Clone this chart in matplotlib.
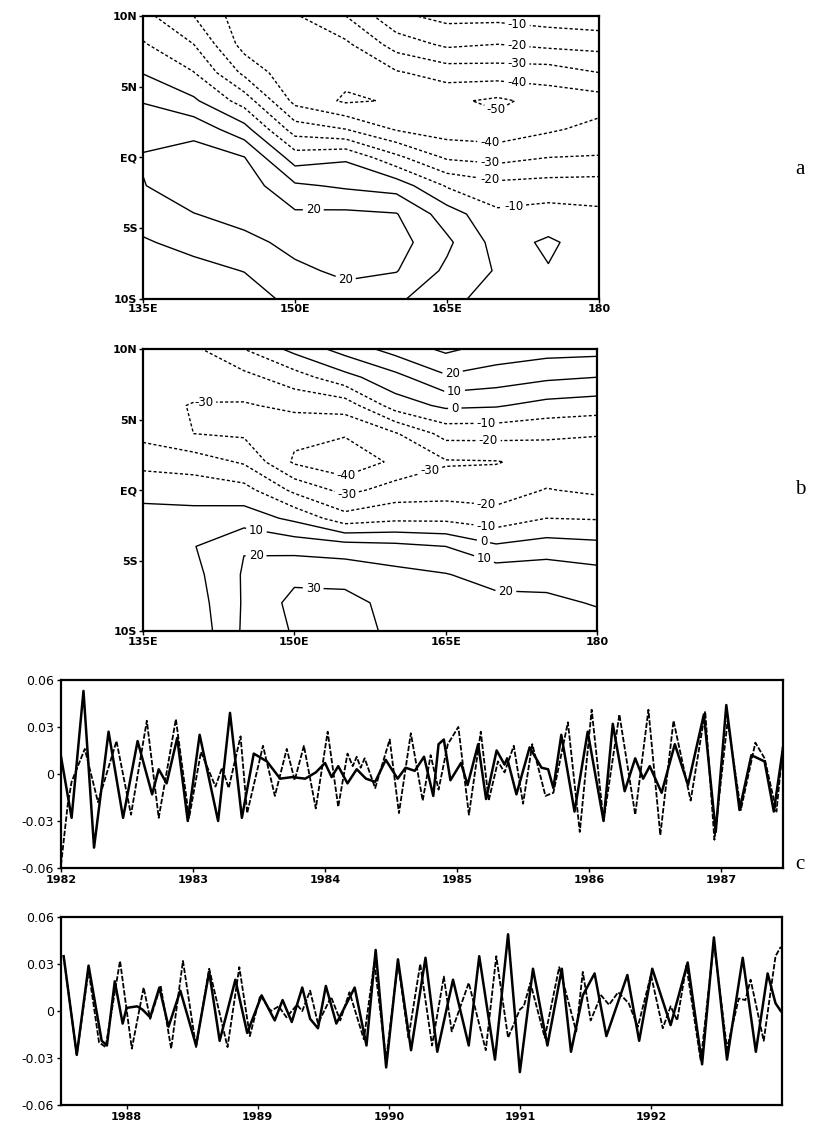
import numpy as np
import matplotlib
matplotlib.use("Agg")
import matplotlib.pyplot as plt

# ---------------- map panels (grid values) ----------------
lons = [135, 140, 145, 150, 155, 160, 165, 170, 175, 180]
lats = [10, 8, 6, 4, 2, 0, -2, -4, -6, -8, -10]

# panel a : one row per longitude, north -> south
field_a = np.array([
    [-17, -9, -0.5, 9.5, 15.3, 21, 19.5, 14, 9, 5, 2],          # 135E
    [-30, -20, -9.7, 1.7, 16.5, 25, 27, 19.7, 13, 7, 3],        # 140E
    [-46, -44, -32.5, -14.4, 3.7, 20.3, 25.5, 24, 17, 10.3, 5],  # 145E
    [-41, -46, -48, -43, -25, -5, 11.6, 21.5, 23, 18, 13],      # 150E
    [-30, -42, -47, -51.5, -30, -1.5, 8.5, 22, 26, 22, 16],     # 155E
    [-12, -25.5, -41, -49, -41, -17.5, 5.8, 20.5, 24, 20.5, 12],  # 160E
    [-7, -18, -35.5, -48, -45, -31.5, -11, 5, 12, 8, 2],        # 165E
    [-7, -20, -35, -52, -46, -33.5, -17, -8, -4, -1, -3],       # 170E
    [-5, -17.5, -35, -46, -41.5, -30, -16, -6, 1.5, -0.5, -4],  # 175E
    [-3, -16.5, -30, -44.5, -37, -29.4, -15.5, -8, -5, -4, -3],  # 180
]).T

# panel b
field_b = np.array([
    [-24, -26, -27, -23, -13.4, -2.7, 3, 5, 5.5, 5, 4],            # 135E
    [-22, -26, -30.5, -30, -14.7, -4.5, 3.6, 9.5, 7, 5, 3],        # 140E
    [-10, -23, -31, -31.5, -21.3, -6.3, 5, 19.5, 21, 21, 21.5],    # 145E
    [3, -14.6, -27.5, -37.5, -41.5, -22.4, -2.2, 16.4, 27.5, 33, 31],  # 150E
    [14, -3.3, -25.8, -39, -47, -33, -16, 14.6, 26.7, 33, 32],     # 155E
    [24, 6.8, -5, -31, -38, -26, -12.4, 12.8, 23, 27, 29],         # 160E
    [32, 18.6, 2, -16.5, -31, -24.8, -12.4, 10, 20.5, 23, 23],     # 165E
    [26, 15.3, 1, -16.5, -30.5, -25, -15.7, 1.5, 16, 23, 24],      # 170E
    [24, 11.8, -3.3, -18, -27, -19.5, -10, 4.5, 16.5, 22, 24],     # 175E
    [23.5, 10, -5, -19.3, -26.5, -22, -10.7, 3, 13.5, 19.3, 24],   # 180
]).T

levels_a = [-50, -40, -30, -20, -10, 0, 10, 20]
levels_b = [-40, -30, -20, -10, 0, 10, 20, 30]

# where the contour labels sit (lon, lat)
labels_a = [(171.9, 9.2), (171.9, 8.0), (171.9, 6.9), (171.9, 5.6), (169.8, 3.3),
            (169.2, 0.75), (169.2, -0.4), (169.2, -1.6), (171.5, -3.0),
            (151.8, -3.7), (154.8, -9.0)]
labels_b = [(165.7, 8.2), (165.9, 6.8), (165.9, 5.8), (169.0, 5.0), (169.2, 3.5),
            (163.4, 1.5), (155.2, 0.9), (155.2, -0.4), (141.0, 7.0), (169.0, -1.3),
            (169.0, -2.5), (168.7, -3.8), (146.2, -3.0), (168.7, -5.1),
            (146.2, -4.0), (171.0, -6.5), (151.9, -6.3)]

lon_ticks = [135, 150, 165, 180]
lon_labels = ["135E", "150E", "165E", "180"]
lat_ticks = [-10, -5, 0, 5, 10]
lat_labels = ["10S", "5S", "EQ", "5N", "10N"]

# ---------------- time series (turning points) -------------
c1_solid = [
    (1982.00, 0.011), (1982.08, -0.028), (1982.17, 0.053), (1982.25, -0.047),
    (1982.36, 0.027), (1982.47, -0.028), (1982.58, 0.021), (1982.69, -0.013),
    (1982.74, 0.003), (1982.80, -0.006), (1982.88, 0.023), (1982.96, -0.030),
    (1983.05, 0.025), (1983.19, -0.030), (1983.28, 0.039), (1983.37, -0.028),
    (1983.46, 0.013), (1983.56, 0.008), (1983.66, -0.003), (1983.75, -0.002),
    (1983.85, -0.003), (1983.93, 0.001), (1984.00, 0.007), (1984.05, -0.002),
    (1984.10, 0.005), (1984.17, -0.006), (1984.24, 0.003), (1984.31, -0.003),
    (1984.38, -0.005), (1984.46, 0.009), (1984.55, -0.003), (1984.61, 0.004),
    (1984.68, 0.002), (1984.75, 0.011), (1984.82, -0.014), (1984.86, 0.019),
    (1984.90, 0.022), (1984.95, -0.004), (1985.03, 0.007), (1985.08, -0.007),
    (1985.16, 0.019), (1985.22, -0.016), (1985.30, 0.015), (1985.36, 0.006),
    (1985.38, 0.010), (1985.45, -0.013), (1985.55, 0.017), (1985.64, 0.004),
    (1985.69, 0.003), (1985.73, -0.009), (1985.79, 0.025), (1985.89, -0.024),
    (1985.99, 0.027), (1986.11, -0.030), (1986.18, 0.032), (1986.27, -0.011),
    (1986.35, 0.010), (1986.41, -0.003), (1986.46, 0.005), (1986.55, -0.012),
    (1986.65, 0.019), (1986.75, -0.007), (1986.87, 0.038), (1986.96, -0.037),
    (1987.04, 0.044), (1987.14, -0.023), (1987.23, 0.012), (1987.28, 0.010),
    (1987.33, 0.008), (1987.40, -0.024), (1987.47, 0.017),
]
c1_dash = [
    (1982.00, -0.058), (1982.05, -0.020), (1982.08, -0.005), (1982.18, 0.016),
    (1982.28, -0.018), (1982.42, 0.021), (1982.53, -0.026), (1982.65, 0.034),
    (1982.74, -0.028), (1982.87, 0.035), (1982.97, -0.028), (1983.06, 0.014),
    (1983.17, -0.008), (1983.22, 0.004), (1983.27, -0.009), (1983.36, 0.024),
    (1983.41, -0.025), (1983.53, 0.018), (1983.62, -0.014), (1983.71, 0.016),
    (1983.77, -0.004), (1983.84, 0.018), (1983.93, -0.022), (1984.02, 0.027),
    (1984.10, -0.021), (1984.17, 0.013), (1984.21, 0.005), (1984.24, 0.011),
    (1984.27, 0.004), (1984.30, 0.010), (1984.38, -0.009), (1984.49, 0.022),
    (1984.56, -0.025), (1984.65, 0.026), (1984.74, -0.017), (1984.80, 0.012),
    (1984.86, -0.010), (1984.93, 0.019), (1985.01, 0.030), (1985.09, -0.026),
    (1985.18, 0.027), (1985.24, -0.017), (1985.31, 0.008), (1985.36, 0.001),
    (1985.43, 0.018), (1985.50, -0.019), (1985.57, 0.019), (1985.67, -0.014),
    (1985.73, -0.012), (1985.84, 0.033), (1985.93, -0.037), (1986.02, 0.041),
    (1986.11, -0.030), (1986.23, 0.038), (1986.35, -0.026), (1986.45, 0.041),
    (1986.54, -0.039), (1986.64, 0.034), (1986.77, -0.017), (1986.88, 0.040),
    (1986.95, -0.042), (1987.05, 0.034), (1987.15, -0.023), (1987.26, 0.020),
    (1987.33, 0.010), (1987.42, -0.024), (1987.47, 0.019),
]
c2_solid = [
    (1987.52, 0.035), (1987.62, -0.028), (1987.71, 0.029), (1987.81, -0.019),
    (1987.85, -0.022), (1987.91, 0.019), (1987.97, -0.008), (1988.00, 0.002),
    (1988.08, 0.003), (1988.12, 0.001), (1988.18, -0.004), (1988.25, 0.015),
    (1988.32, -0.010), (1988.41, 0.013), (1988.53, -0.022), (1988.63, 0.025),
    (1988.71, -0.019), (1988.83, 0.020), (1988.92, -0.014), (1989.03, 0.010),
    (1989.13, -0.006), (1989.19, 0.007), (1989.26, -0.007), (1989.34, 0.015),
    (1989.40, -0.005), (1989.46, -0.011), (1989.52, 0.016), (1989.60, -0.008),
    (1989.74, 0.015), (1989.83, -0.022), (1989.90, 0.039), (1989.98, -0.036),
    (1990.07, 0.033), (1990.17, -0.025), (1990.28, 0.034), (1990.37, -0.026),
    (1990.49, 0.020), (1990.61, -0.022), (1990.69, 0.035), (1990.81, -0.031),
    (1990.91, 0.049), (1991.00, -0.039), (1991.10, 0.027), (1991.21, -0.022),
    (1991.32, 0.027), (1991.39, -0.026), (1991.48, 0.010), (1991.57, 0.024),
    (1991.66, -0.016), (1991.82, 0.023), (1991.91, -0.019), (1992.01, 0.027),
    (1992.15, -0.009), (1992.28, 0.031), (1992.39, -0.034), (1992.48, 0.047),
    (1992.58, -0.031), (1992.70, 0.034), (1992.80, -0.026), (1992.89, 0.024),
    (1992.95, 0.005), (1992.99, 0.000),
]
c2_dash = [
    (1987.52, 0.035), (1987.62, -0.028), (1987.71, 0.026), (1987.79, -0.020),
    (1987.84, -0.023), (1987.95, 0.032), (1988.04, -0.024), (1988.13, 0.015),
    (1988.18, -0.005), (1988.26, 0.016), (1988.34, -0.024), (1988.43, 0.032),
    (1988.53, -0.023), (1988.63, 0.027), (1988.77, -0.023), (1988.86, 0.028),
    (1988.94, -0.016), (1989.02, 0.010), (1989.10, 0.000), (1989.16, 0.003),
    (1989.22, -0.004), (1989.30, 0.004), (1989.34, 0.000), (1989.40, 0.013),
    (1989.46, -0.008), (1989.56, 0.009), (1989.63, -0.006), (1989.70, 0.012),
    (1989.81, -0.018), (1989.89, 0.031), (1989.98, -0.031), (1990.07, 0.031),
    (1990.15, -0.017), (1990.24, 0.030), (1990.33, -0.022), (1990.42, 0.022),
    (1990.48, -0.013), (1990.61, 0.018), (1990.74, -0.025), (1990.82, 0.035),
    (1990.91, -0.017), (1991.00, 0.001), (1991.03, 0.003), (1991.08, 0.018),
    (1991.19, -0.017), (1991.30, 0.028), (1991.43, -0.013), (1991.48, 0.025),
    (1991.54, -0.006), (1991.62, 0.010), (1991.68, 0.004), (1991.75, 0.012),
    (1991.83, 0.005), (1991.90, -0.010), (1992.00, 0.023), (1992.09, -0.011),
    (1992.15, 0.003), (1992.20, -0.006), (1992.27, 0.029), (1992.38, -0.032),
    (1992.48, 0.044), (1992.58, -0.024), (1992.67, 0.008), (1992.72, 0.007),
    (1992.76, 0.020), (1992.86, -0.019), (1992.95, 0.035), (1992.99, 0.041),
]

c1_years = [1982, 1983, 1984, 1985, 1986, 1987]
c2_years = [1988, 1989, 1990, 1991, 1992]
ts_yticks = [-0.06, -0.03, 0, 0.03, 0.06]
ts_ylabels = ["-0.06", "-0.03", "0", "0.03", "0.06"]

# ------------------------------------------------------------------------------
fig = plt.figure(figsize=(8.35, 11.23), dpi=100)
tick_font = dict(family="DejaVu Sans", weight="bold", size=8)


def draw_map(rect, field, levels, label_pos):
    ax = fig.add_axes(rect)
    styles = ["solid" if lv >= 0 else (0, (2.2, 1.6)) for lv in levels]
    cs = ax.contour(lons, lats, field, levels=levels, colors="black",
                    linewidths=1.0, linestyles=styles)
    texts = ax.clabel(cs, fmt="%d", fontsize=8.5, inline=True, inline_spacing=3,
                      manual=label_pos)
    for t in texts:
        t.set_rotation(0)
    ax.set_xlim(135, 180)
    ax.set_ylim(-10, 10)
    ax.set_xticks(lon_ticks)
    ax.set_xticklabels(lon_labels, **tick_font)
    ax.set_yticks(lat_ticks)
    ax.set_yticklabels(lat_labels, **tick_font)
    ax.tick_params(length=3, width=1, pad=1)
    for sp in ax.spines.values():
        sp.set_linewidth(1.6)
    return ax


draw_map([0.1713, 0.7338, 0.5461, 0.2520], field_a, levels_a, labels_a)
draw_map([0.1713, 0.4381, 0.5437, 0.2511], field_b, levels_b, labels_b)


def draw_ts(rect, solid, dash, x0, x1, years):
    ax = fig.add_axes(rect)
    t, v = zip(*solid)
    ax.plot(t, v, color="black", lw=1.8, solid_joinstyle="round")
    t, v = zip(*dash)
    ax.plot(t, v, color="black", lw=1.3, ls=(0, (3, 1)))
    ax.set_xlim(x0, x1)
    ax.set_ylim(-0.06, 0.06)
    ax.set_xticks(years)
    ax.set_xticklabels([str(y) for y in years], **tick_font)
    ax.set_yticks(ts_yticks)
    ax.set_yticklabels(ts_ylabels, family="DejaVu Sans", size=9)
    ax.tick_params(length=3, width=1, pad=2)
    for sp in ax.spines.values():
        sp.set_linewidth(1.6)
    return ax


draw_ts([0.0731, 0.2271, 0.8647, 0.1674], c1_solid, c1_dash, 1982.0, 1987.47, c1_years)
draw_ts([0.0731, 0.0160, 0.8635, 0.1674], c2_solid, c2_dash, 1987.5, 1993.0, c2_years)

for txt, y in [("a", 0.849), ("b", 0.564), ("c", 0.230)]:
    fig.text(0.958, y, txt, family="Liberation Serif", size=15, ha="center", va="center")

fig.savefig("out.png", dpi=100)
